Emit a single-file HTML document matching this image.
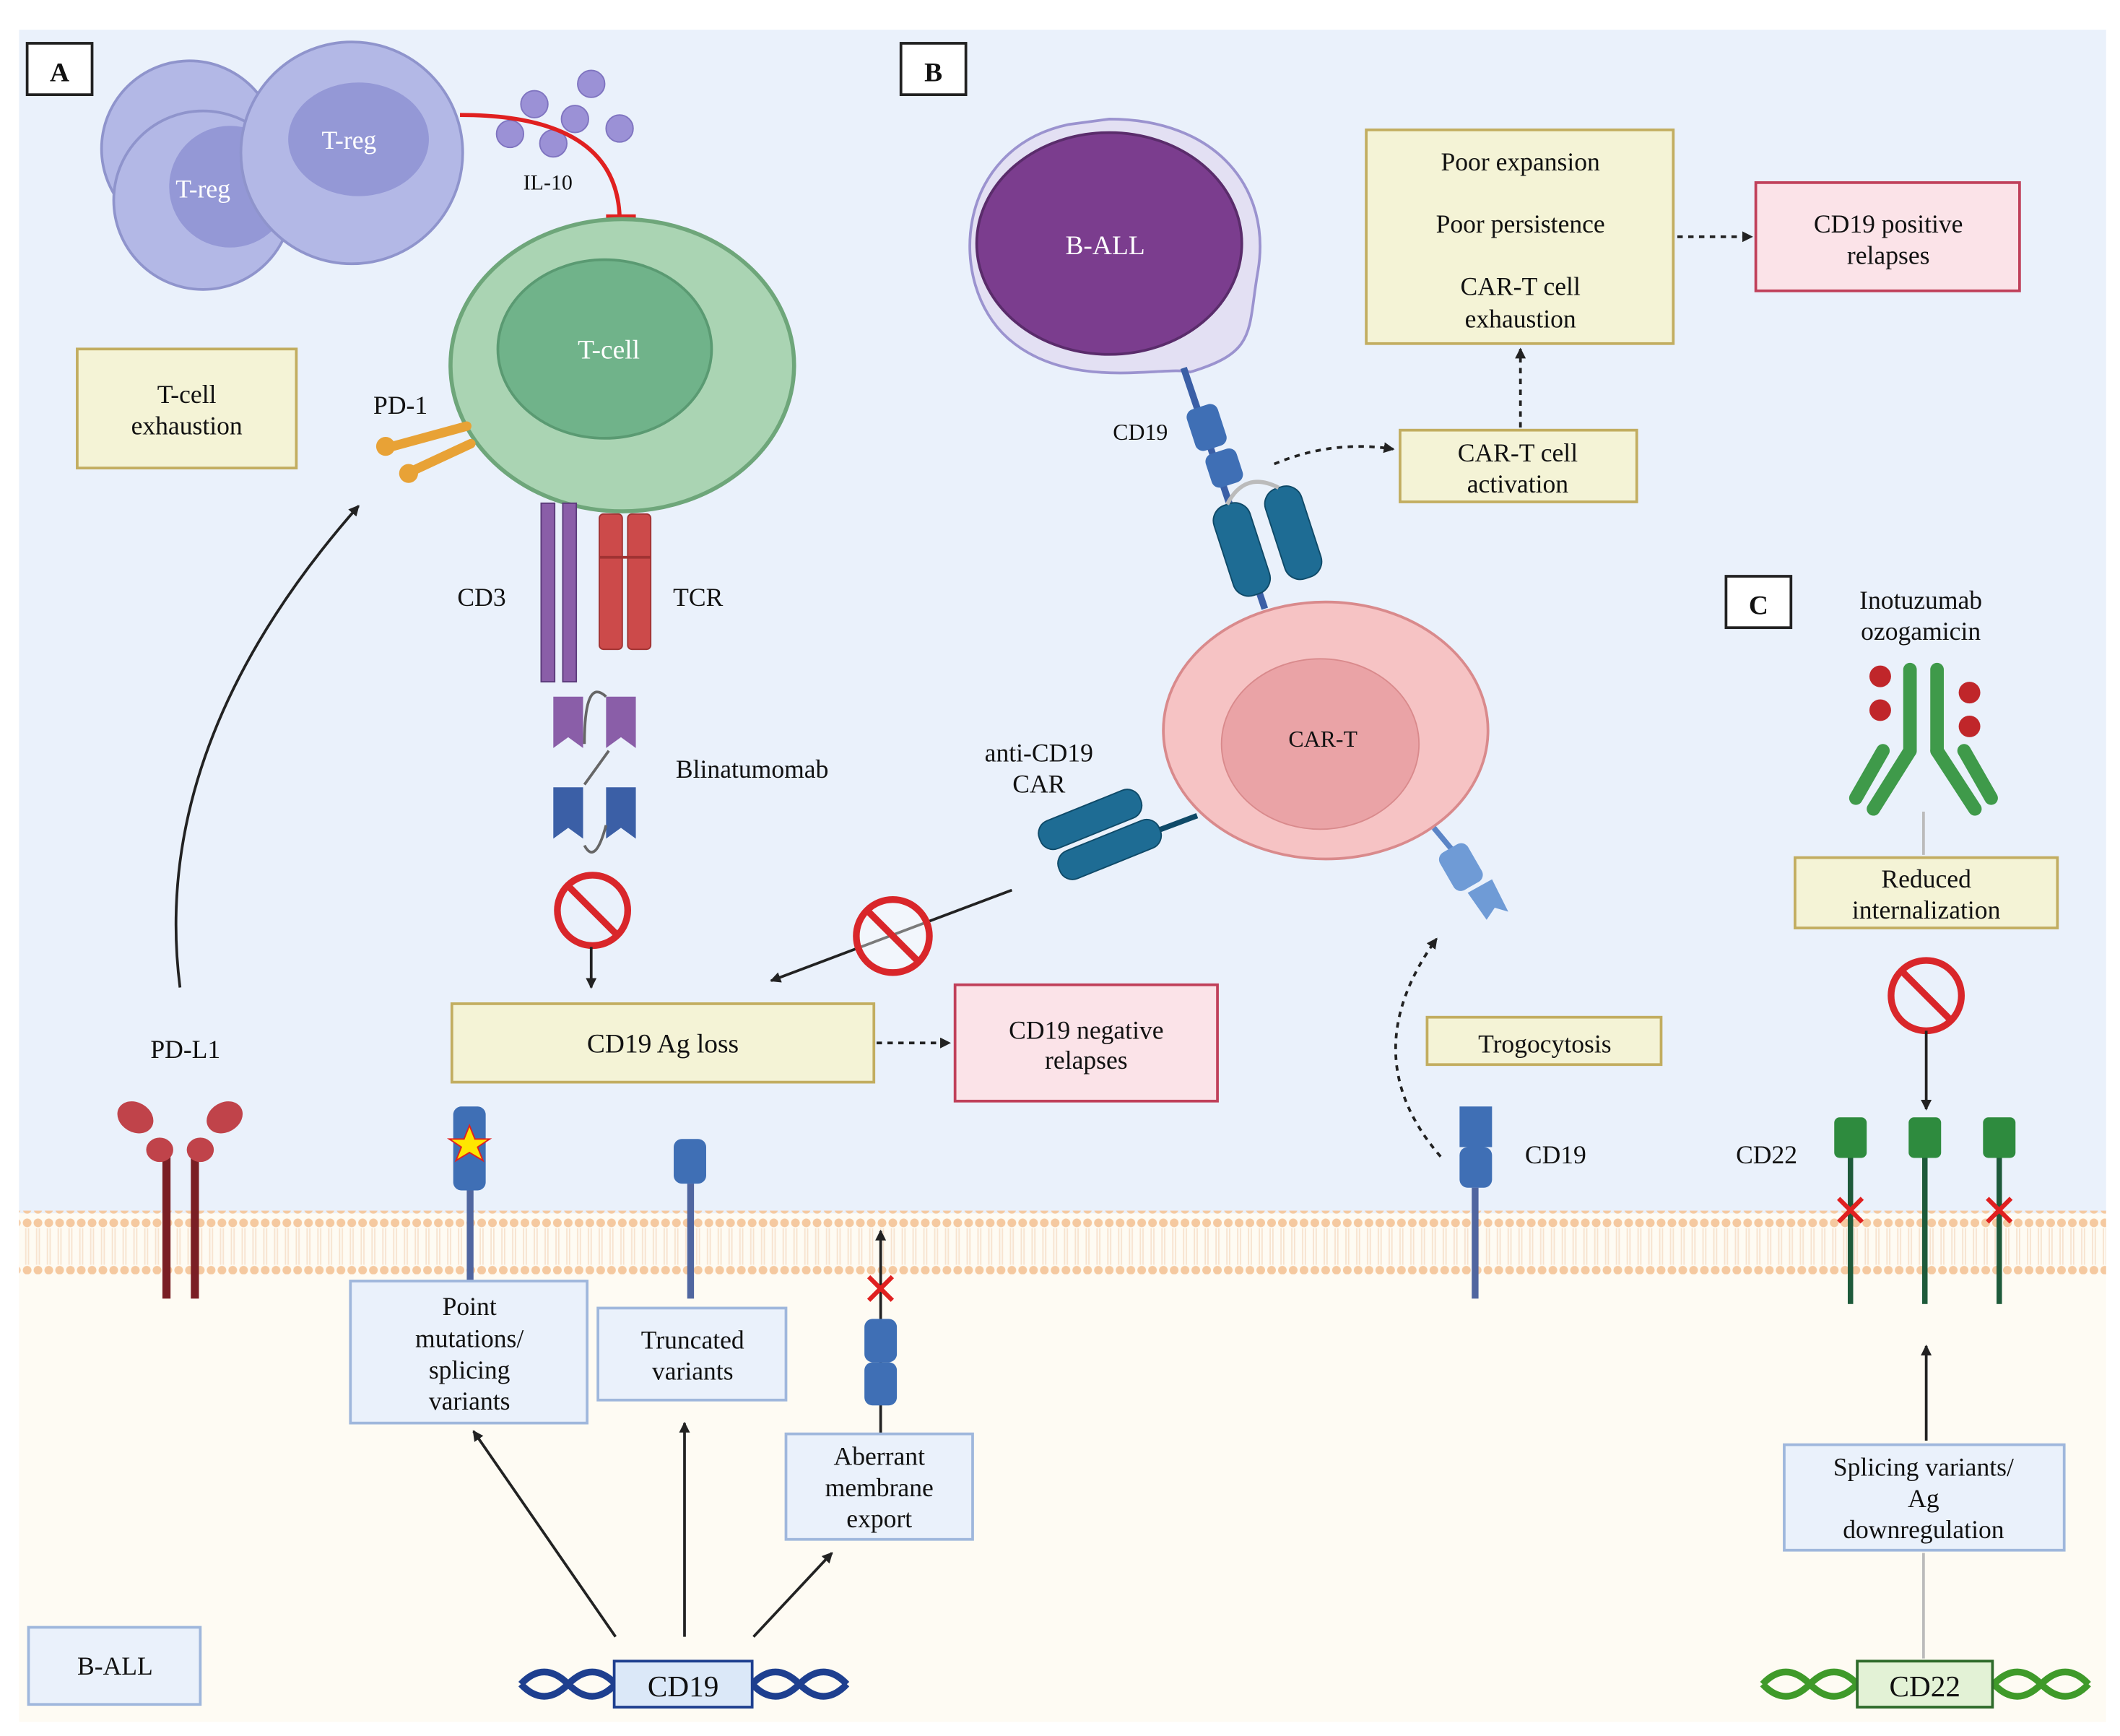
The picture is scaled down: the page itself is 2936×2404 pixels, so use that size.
<!DOCTYPE html>
<html><head><meta charset="utf-8"><style>
html,body{margin:0;padding:0;background:#fff}
svg{display:block}
svg text{font-family:"Liberation Serif","DejaVu Serif",serif;fill:#111}
</style></head><body>
<svg width="2936" height="2404" viewBox="0 0 1557 1275" xmlns="http://www.w3.org/2000/svg" font-family="'Liberation Serif', 'DejaVu Serif', serif">
<defs>
<marker id="ah" markerWidth="8" markerHeight="8" refX="7" refY="4" orient="auto" markerUnits="userSpaceOnUse"><path d="M0,0 L8,4 L0,8 z" fill="#222"/></marker>
<pattern id="lip" x="0" y="0" width="8" height="45" patternUnits="userSpaceOnUse">
<circle cx="4" cy="4" r="3.2" fill="#f5c9a0"/><circle cx="4" cy="39" r="3.2" fill="#f5c9a0"/>
<line x1="3" y1="8" x2="3" y2="35" stroke="#f7e3cf" stroke-width="1"/><line x1="5" y1="8" x2="5" y2="35" stroke="#f7e3cf" stroke-width="1"/>
</pattern>
</defs>
<rect width="1557" height="1275" fill="#fff"/>
<g transform="scale(0.9935)">
<rect x="14" y="22" width="1543" height="875" fill="#eaf1fb"/>
<rect x="14" y="897" width="1543" height="376" fill="#fefbf3"/>
<rect x="14" y="895" width="1543" height="47" fill="url(#lip)"/>

<rect x="20" y="32" width="48" height="38" fill="#fff" stroke="#222" stroke-width="2"/><text x="44" y="60" font-size="20" text-anchor="middle" font-weight="bold">A</text>
<rect x="666" y="32" width="48" height="38" fill="#fff" stroke="#222" stroke-width="2"/><text x="690" y="60" font-size="20" text-anchor="middle" font-weight="bold">B</text>
<rect x="1276" y="426" width="48" height="38" fill="#fff" stroke="#222" stroke-width="2"/><text x="1300" y="454" font-size="20" text-anchor="middle" font-weight="bold">C</text>

<circle cx="140" cy="110" r="65" fill="#b3b8e6" stroke="#8f94cc" stroke-width="2"/>
<circle cx="150" cy="148" r="66" fill="#b3b8e6" stroke="#8f94cc" stroke-width="2"/>
<circle cx="170" cy="138" r="45" fill="#9498d6"/>
<text x="150" y="146" font-size="19" text-anchor="middle" style="fill:#fff">T-reg</text>
<circle cx="260" cy="113" r="82" fill="#b3b8e6" stroke="#8f94cc" stroke-width="2"/>
<ellipse cx="265" cy="103" rx="52" ry="42" fill="#9498d6"/>
<text x="258" y="110" font-size="19" text-anchor="middle" style="fill:#fff">T-reg</text>
<g fill="#9b91d6" stroke="#7f74c0"><circle cx="395" cy="77" r="10"/><circle cx="437" cy="62" r="10"/><circle cx="425" cy="88" r="10"/><circle cx="458" cy="95" r="10"/><circle cx="377" cy="99" r="10"/><circle cx="409" cy="106" r="10"/></g>
<text x="405" y="140" font-size="16" text-anchor="middle">IL-10</text>
<path d="M340 85 Q455 85 458 160" fill="none" stroke="#e02020" stroke-width="3"/>
<line x1="448" y1="160" x2="470" y2="160" stroke="#e02020" stroke-width="3"/>

<ellipse cx="460" cy="270" rx="127" ry="108" fill="#aad4b3" stroke="#6ea67a" stroke-width="3"/>
<ellipse cx="447" cy="258" rx="79" ry="66" fill="#70b38a" stroke="#5a9a72" stroke-width="2"/>
<text x="450" y="265" font-size="20" text-anchor="middle" style="fill:#fff">T-cell</text>
<rect x="57" y="258" width="162" height="88" fill="#f4f3d6" stroke="#c2ad60" stroke-width="2"/>
<text x="138" y="298" font-size="19" text-anchor="middle">T-cell</text><text x="138" y="321" font-size="19" text-anchor="middle">exhaustion</text>
<text x="296" y="306" font-size="19" text-anchor="middle">PD-1</text>
<path d="M345 315 L290 330" stroke="#e8a236" stroke-width="7" stroke-linecap="round"/>
<path d="M348 328 L305 348" stroke="#e8a236" stroke-width="7" stroke-linecap="round"/>
<circle cx="285" cy="330" r="7" fill="#e8a236"/><circle cx="302" cy="350" r="7" fill="#e8a236"/>
<rect x="400" y="372" width="10" height="132" fill="#8a5ea8" stroke="#5b3b7a"/>
<rect x="416" y="372" width="10" height="132" fill="#8a5ea8" stroke="#5b3b7a"/>
<text x="356" y="448" font-size="19" text-anchor="middle">CD3</text>
<rect x="443" y="380" width="17" height="100" rx="3" fill="#cc4a4a" stroke="#a03333"/>
<rect x="464" y="380" width="17" height="100" rx="3" fill="#cc4a4a" stroke="#a03333"/>
<line x1="443" y1="412" x2="481" y2="412" stroke="#a03333" stroke-width="2"/>
<text x="516" y="448" font-size="19" text-anchor="middle">TCR</text>
<path d="M409 515 h22 v38 l-11 -8 l-11 8 z" fill="#8a5ea8"/><path d="M448 515 h22 v38 l-11 -8 l-11 8 z" fill="#8a5ea8"/>
<path d="M409 582 h22 v38 l-11 -8 l-11 8 z" fill="#3b5fa6"/><path d="M448 582 h22 v38 l-11 -8 l-11 8 z" fill="#3b5fa6"/>
<path d="M432 550 Q432 500 448 515" fill="none" stroke="#666" stroke-width="2"/>
<path d="M432 625 Q440 640 448 610" fill="none" stroke="#666" stroke-width="2"/>
<line x1="432" y1="580" x2="450" y2="555" stroke="#666" stroke-width="2"/>
<text x="556" y="575" font-size="19" text-anchor="middle">Blinatumomab</text>
<circle cx="438" cy="673" r="26" fill="none" stroke="#d9262a" stroke-width="5"/><line x1="421" y1="656" x2="455" y2="690" stroke="#d9262a" stroke-width="5"/>
<line x1="437" y1="700" x2="437" y2="730" stroke="#222" stroke-width="2" marker-end="url(#ah)"/>

<rect x="334" y="742" width="312" height="58" fill="#f4f3d6" stroke="#c2ad60" stroke-width="2"/>
<text x="490" y="778" font-size="20" text-anchor="middle">CD19 Ag loss</text>
<line x1="648" y1="771" x2="702" y2="771" stroke="#222" stroke-width="2" stroke-dasharray="4,4" marker-end="url(#ah)"/>
<rect x="706" y="728" width="194" height="86" fill="#fbe3e8" stroke="#c0405a" stroke-width="2"/>
<text x="803" y="768" font-size="19" text-anchor="middle">CD19 negative</text><text x="803" y="790" font-size="19" text-anchor="middle">relapses</text>
<line x1="748" y1="658" x2="570" y2="725" stroke="#222" stroke-width="2" marker-end="url(#ah)"/>
<circle cx="660" cy="692" r="27" fill="#fff" fill-opacity="0.4" stroke="#d9262a" stroke-width="5"/><line x1="642" y1="674" x2="678" y2="710" stroke="#d9262a" stroke-width="5"/>

<path d="M133 730 Q110 550 265 374" fill="none" stroke="#222" stroke-width="2" marker-end="url(#ah)"/>
<text x="137" y="782" font-size="19" text-anchor="middle">PD-L1</text>
<rect x="120" y="850" width="6" height="110" fill="#7a1e24"/><rect x="141" y="850" width="6" height="110" fill="#7a1e24"/>
<ellipse cx="100" cy="826" rx="14" ry="11" fill="#c0434a" transform="rotate(30 100 826)"/><ellipse cx="118" cy="850" rx="10" ry="9" fill="#c0434a"/>
<ellipse cx="166" cy="826" rx="14" ry="11" fill="#c0434a" transform="rotate(-30 166 826)"/><ellipse cx="148" cy="850" rx="10" ry="9" fill="#c0434a"/>

<rect x="335" y="818" width="24" height="62" rx="6" fill="#3f6fb5"/><rect x="345" y="880" width="5" height="68" fill="#5066a0"/>
<polygon points="347,832 351,842 362,842 353,848 357,858 347,852 337,858 341,848 332,842 343,842" fill="#ffe600" stroke="#e02020"/>
<rect x="259" y="947" width="175" height="105" fill="#eaf1fb" stroke="#9fb7dc" stroke-width="2"/>
<text x="347" y="972" font-size="19" text-anchor="middle">Point</text><text x="347" y="996" font-size="19" text-anchor="middle">mutations/</text><text x="347" y="1019" font-size="19" text-anchor="middle">splicing</text><text x="347" y="1042" font-size="19" text-anchor="middle">variants</text>
<rect x="498" y="842" width="24" height="33" rx="6" fill="#3f6fb5"/><rect x="508" y="875" width="5" height="85" fill="#5066a0"/>
<rect x="442" y="967" width="139" height="68" fill="#eaf1fb" stroke="#9fb7dc" stroke-width="2"/>
<text x="512" y="997" font-size="19" text-anchor="middle">Truncated</text><text x="512" y="1020" font-size="19" text-anchor="middle">variants</text>
<line x1="651" y1="1060" x2="651" y2="910" stroke="#222" stroke-width="2" marker-end="url(#ah)"/>
<rect x="639" y="975" width="24" height="32" rx="6" fill="#3f6fb5"/><rect x="639" y="1007" width="24" height="32" rx="6" fill="#3f6fb5"/>
<text x="651" y="965" font-size="34" text-anchor="middle" style="fill:#e02020">✕</text>
<rect x="581" y="1060" width="138" height="78" fill="#eaf1fb" stroke="#9fb7dc" stroke-width="2"/>
<text x="650" y="1083" font-size="19" text-anchor="middle">Aberrant</text><text x="650" y="1106" font-size="19" text-anchor="middle">membrane</text><text x="650" y="1129" font-size="19" text-anchor="middle">export</text>
<line x1="455" y1="1210" x2="350" y2="1058" stroke="#222" stroke-width="2" marker-end="url(#ah)"/>
<line x1="506" y1="1210" x2="506" y2="1052" stroke="#222" stroke-width="2" marker-end="url(#ah)"/>
<line x1="557" y1="1210" x2="615" y2="1148" stroke="#222" stroke-width="2" marker-end="url(#ah)"/>
<path d="M385 1245 q17 -18 35 0 t35 0 M385 1245 q17 18 35 0 t35 0 M556 1245 q17 -18 35 0 t35 0 M556 1245 q17 18 35 0 t35 0" fill="none" stroke="#1e3f8f" stroke-width="5"/>
<rect x="454" y="1228" width="102" height="34" fill="#dbe8f8" stroke="#1e3f8f" stroke-width="2"/>
<text x="505" y="1254" font-size="22" text-anchor="middle">CD19</text>
<rect x="21" y="1203" width="127" height="57" fill="#eaf1fb" stroke="#9fb7dc" stroke-width="2"/>
<text x="85" y="1238" font-size="19" text-anchor="middle">B-ALL</text>

<path d="M820 88 C900 88 940 140 930 200 C922 245 930 260 880 275 C860 270 790 290 745 250 C700 210 705 110 790 92 Z" fill="#e3e0f3" stroke="#9b93cf" stroke-width="2"/>
<ellipse cx="820" cy="180" rx="98" ry="82" fill="#7b3d8e" stroke="#5a2c6b" stroke-width="2"/>
<text x="817" y="188" font-size="20" text-anchor="middle" style="fill:#fff">B-ALL</text>
<line x1="875" y1="272" x2="935" y2="450" stroke="#3b5fa6" stroke-width="5"/>
<rect x="880" y="300" width="24" height="32" rx="6" fill="#3f6fb5" transform="rotate(-18 892 316)"/>
<rect x="893" y="333" width="24" height="26" rx="6" fill="#3f6fb5" transform="rotate(-18 905 346)"/>
<text x="843" y="325" font-size="17" text-anchor="middle">CD19</text>
<g transform="rotate(-18 937 400)"><rect x="903" y="365" width="28" height="70" rx="12" fill="#1e6c94" stroke="#0f4a68"/><rect x="943" y="365" width="28" height="70" rx="12" fill="#1e6c94" stroke="#0f4a68"/><path d="M917 365 Q937 345 957 365" fill="none" stroke="#bbb" stroke-width="3"/></g>
<path d="M942 343 Q985 325 1030 332" fill="none" stroke="#222" stroke-width="2" stroke-dasharray="4,4" marker-end="url(#ah)"/>
<rect x="1035" y="318" width="175" height="53" fill="#f4f3d6" stroke="#c2ad60" stroke-width="2"/>
<text x="1122" y="341" font-size="19" text-anchor="middle">CAR-T cell</text><text x="1122" y="364" font-size="19" text-anchor="middle">activation</text>
<line x1="1124" y1="316" x2="1124" y2="258" stroke="#222" stroke-width="2" stroke-dasharray="4,4" marker-end="url(#ah)"/>
<rect x="1010" y="96" width="227" height="158" fill="#f4f3d6" stroke="#c2ad60" stroke-width="2"/>
<text x="1124" y="126" font-size="19" text-anchor="middle">Poor expansion</text>
<text x="1124" y="172" font-size="19" text-anchor="middle">Poor persistence</text>
<text x="1124" y="218" font-size="19" text-anchor="middle">CAR-T cell</text><text x="1124" y="242" font-size="19" text-anchor="middle">exhaustion</text>
<line x1="1240" y1="175" x2="1295" y2="175" stroke="#222" stroke-width="2" stroke-dasharray="4,4" marker-end="url(#ah)"/>
<rect x="1298" y="135" width="195" height="80" fill="#fbe3e8" stroke="#c0405a" stroke-width="2"/>
<text x="1396" y="172" font-size="19" text-anchor="middle">CD19 positive</text><text x="1396" y="195" font-size="19" text-anchor="middle">relapses</text>

<ellipse cx="980" cy="540" rx="120" ry="95" fill="#f6c3c4" stroke="#d98a8c" stroke-width="2"/>
<ellipse cx="976" cy="550" rx="73" ry="63" fill="#eaa3a6" stroke="#d98a8c"/>
<text x="978" y="552" font-size="17" text-anchor="middle">CAR-T</text>
<line x1="885" y1="603" x2="845" y2="618" stroke="#0f4a68" stroke-width="4"/>
<g transform="rotate(-22 815 615)"><rect x="770" y="592" width="80" height="22" rx="10" fill="#1e6c94" stroke="#0f4a68"/><rect x="775" y="618" width="80" height="22" rx="10" fill="#1e6c94" stroke="#0f4a68"/></g>
<text x="768" y="563" font-size="19" text-anchor="middle">anti-CD19</text><text x="768" y="586" font-size="19" text-anchor="middle">CAR</text>
<line x1="1060" y1="612" x2="1075" y2="630" stroke="#5a84c6" stroke-width="4"/>
<rect x="1068" y="625" width="24" height="32" rx="6" fill="#6f9bd6" transform="rotate(-30 1080 641)"/>
<path d="M1085 660 l18 -10 l12 24 l-10 -3 l-6 9 z" fill="#6f9bd6"/>
<path d="M1065 855 Q1000 780 1062 694" fill="none" stroke="#222" stroke-width="2" stroke-dasharray="4,4" marker-end="url(#ah)"/>
<rect x="1055" y="752" width="173" height="35" fill="#f4f3d6" stroke="#c2ad60" stroke-width="2"/>
<text x="1142" y="778" font-size="19" text-anchor="middle">Trogocytosis</text>
<path d="M1079 818 h24 v30 h-24 z" fill="#3f6fb5"/><rect x="1079" y="848" width="24" height="30" rx="6" fill="#3f6fb5"/>
<rect x="1088" y="878" width="5" height="82" fill="#5066a0"/>
<text x="1150" y="860" font-size="19" text-anchor="middle">CD19</text>

<text x="1420" y="450" font-size="19" text-anchor="middle">Inotuzumab</text><text x="1420" y="473" font-size="19" text-anchor="middle">ozogamicin</text>
<g stroke="#3f9a4a" stroke-width="10" stroke-linecap="round"><line x1="1412" y1="495" x2="1412" y2="555"/><line x1="1432" y1="495" x2="1432" y2="555"/><line x1="1412" y1="555" x2="1385" y2="598"/><line x1="1432" y1="555" x2="1460" y2="598"/><line x1="1392" y1="555" x2="1372" y2="590"/><line x1="1452" y1="555" x2="1472" y2="590"/></g>
<g fill="#c0262a"><circle cx="1390" cy="500" r="8"/><circle cx="1390" cy="525" r="8"/><circle cx="1456" cy="512" r="8"/><circle cx="1456" cy="537" r="8"/></g>
<line x1="1422" y1="600" x2="1422" y2="632" stroke="#bbb" stroke-width="2"/>
<rect x="1327" y="634" width="194" height="52" fill="#f4f3d6" stroke="#c2ad60" stroke-width="2"/>
<text x="1424" y="656" font-size="19" text-anchor="middle">Reduced</text><text x="1424" y="679" font-size="19" text-anchor="middle">internalization</text>
<circle cx="1424" cy="736" r="26" fill="none" stroke="#d9262a" stroke-width="5"/><line x1="1406" y1="718" x2="1442" y2="754" stroke="#d9262a" stroke-width="5"/>
<line x1="1424" y1="762" x2="1424" y2="820" stroke="#222" stroke-width="2" marker-end="url(#ah)"/>
<text x="1306" y="860" font-size="19" text-anchor="middle">CD22</text>
<g fill="#2e8b3e"><rect x="1356" y="826" width="24" height="30" rx="4"/><rect x="1411" y="826" width="24" height="30" rx="4"/><rect x="1466" y="826" width="24" height="30" rx="4"/></g>
<g fill="#1e5a3a"><rect x="1366" y="856" width="4" height="108"/><rect x="1421" y="856" width="4" height="108"/><rect x="1476" y="856" width="4" height="108"/></g>
<text x="1368" y="907" font-size="34" text-anchor="middle" style="fill:#e02020">✕</text>
<text x="1478" y="907" font-size="34" text-anchor="middle" style="fill:#e02020">✕</text>
<line x1="1424" y1="1065" x2="1424" y2="995" stroke="#222" stroke-width="2" marker-end="url(#ah)"/>
<rect x="1319" y="1068" width="207" height="78" fill="#eaf1fb" stroke="#9fb7dc" stroke-width="2"/>
<text x="1422" y="1091" font-size="19" text-anchor="middle">Splicing variants/</text><text x="1422" y="1114" font-size="19" text-anchor="middle">Ag</text><text x="1422" y="1137" font-size="19" text-anchor="middle">downregulation</text>
<line x1="1422" y1="1148" x2="1422" y2="1226" stroke="#bbb" stroke-width="2"/>
<path d="M1303 1245 q17 -18 35 0 t35 0 M1303 1245 q17 18 35 0 t35 0 M1474 1245 q17 -18 35 0 t35 0 M1474 1245 q17 18 35 0 t35 0" fill="none" stroke="#3f9a2a" stroke-width="5"/>
<rect x="1373" y="1228" width="100" height="34" fill="#e3f2d6" stroke="#2e6b2a" stroke-width="2"/>
<text x="1423" y="1254" font-size="22" text-anchor="middle">CD22</text>
</g>
</svg>
</body></html>
